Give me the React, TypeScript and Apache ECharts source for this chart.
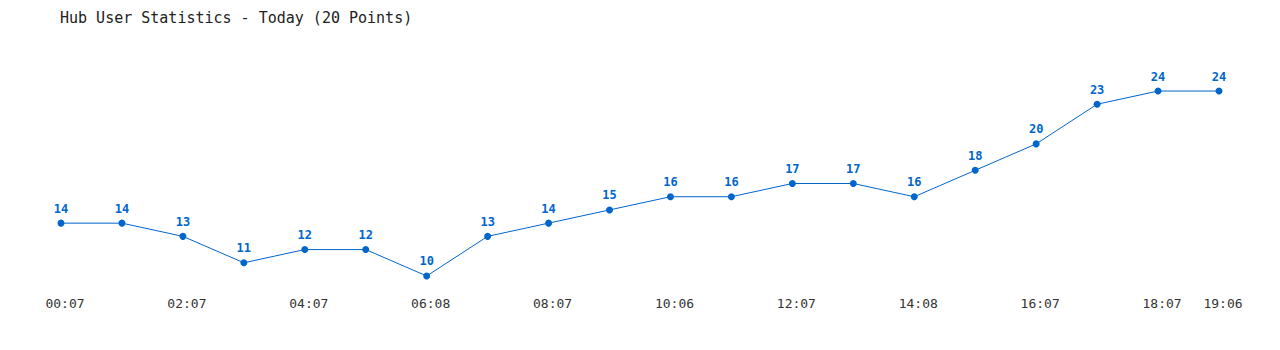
import React, { useEffect, useRef } from "react";
import * as echarts from "echarts";

const titleText = "Hub User Statistics - Today (20 Points)";
const categories = [
  "00:07", "01:07", "02:07", "03:07", "04:07", "05:07", "06:08", "07:07", "08:07", "09:07",
  "10:06", "11:07", "12:07", "13:07", "14:08", "15:07", "16:07", "17:07", "18:07", "19:06",
];
const users = [14, 14, 13, 11, 12, 12, 10, 13, 14, 15, 16, 16, 17, 17, 16, 18, 20, 23, 24, 24];

const MONO = "'DejaVu Sans Mono', 'Liberation Mono', monospace";

export default function App() {
  const ref = useRef<HTMLDivElement>(null);
  useEffect(() => {
    if (!ref.current) return;
    const chart = echarts.init(ref.current, undefined, { renderer: "svg" });
    chart.setOption({
      animation: false,
      backgroundColor: "#ffffff",
      title: {
        text: titleText,
        left: 52,
        top: 2,
        padding: 0,
        textStyle: { fontFamily: MONO, fontSize: 15, fontWeight: "normal", color: "#222222" },
      },
      grid: { left: 53, right: 53, top: 43.4, bottom: 52.8 },
      xAxis: {
        type: "category",
        data: categories,
        boundaryGap: false,
        axisLine: { show: false },
        axisTick: { show: false },
        splitLine: { show: false },
        axisLabel: {
          interval: (i: number) => i % 2 === 0 || i === categories.length - 1,
          fontFamily: MONO,
          fontSize: 13,
          color: "#333333",
          margin: 8,
          padding: [0, 0, 0, 8],
        },
      },
      yAxis: {
        type: "value",
        min: 9,
        max: 27,
        show: false,
        splitLine: { show: false },
      },
      series: [
        {
          type: "line",
          data: users,
          symbol: "circle",
          symbolSize: 7,
          itemStyle: { color: "#0066cc" },
          lineStyle: { color: "#0066cc", width: 1 },
          label: {
            show: true,
            position: "top",
            distance: 5,
            fontFamily: MONO,
            fontSize: 12,
            fontWeight: "bold",
            color: "#0066cc",
          },
        },
      ],
    });
    return () => chart.dispose();
  }, []);
  return <div ref={ref} style={{ width: 1264, height: 334 }} />;
}
